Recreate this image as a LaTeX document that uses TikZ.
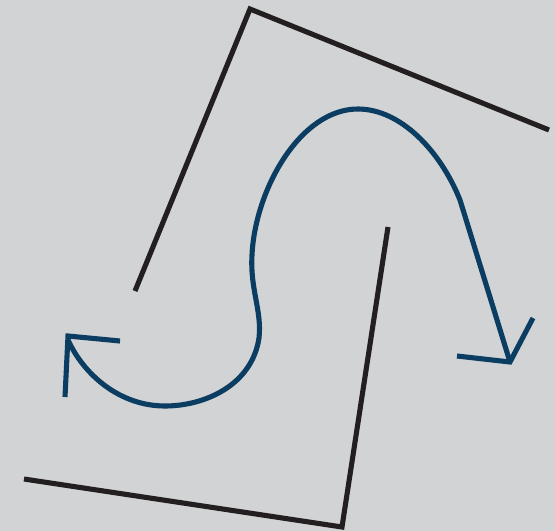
\documentclass[tikz,border=0pt]{standalone}
\usepackage{xcolor}
\usepackage{tikz}
\definecolor{bggray}{HTML}{D1D3D4}
\definecolor{wallblack}{HTML}{231F20}
\definecolor{pathblue}{HTML}{0B3C61}

\begin{document}
\begin{tikzpicture}[x=0.02cm,y=-0.02cm,
    wall/.style={wallblack,line width=2.9pt},
    route/.style={pathblue,line width=2.9pt}]
  \fill[bggray] (0,0) rectangle (555,531);
  \useasboundingbox (0,0) rectangle (555,531);
  % walls
  \draw[wall] (135,291) -- (250,9) -- (549,130);
  \draw[wall] (388,227) -- (342,527) -- (24,479);
  % route
  \draw[route] (510,362) -- (460,200)
    .. controls (440,150) and (400,109) .. (358,109)
    .. controls (300,109) and (255,190) .. (252,255)
    .. controls (250,290) and (262,310) .. (259,338)
    .. controls (252,385) and (205,406) .. (165,406)
    .. controls (120,406) and (84,375) .. (68,340);
  \draw[route] (120,341) -- (68,336) -- (65,397);
  \draw[route] (457,356) -- (510,362) -- (533,318);
\end{tikzpicture}
\end{document}
